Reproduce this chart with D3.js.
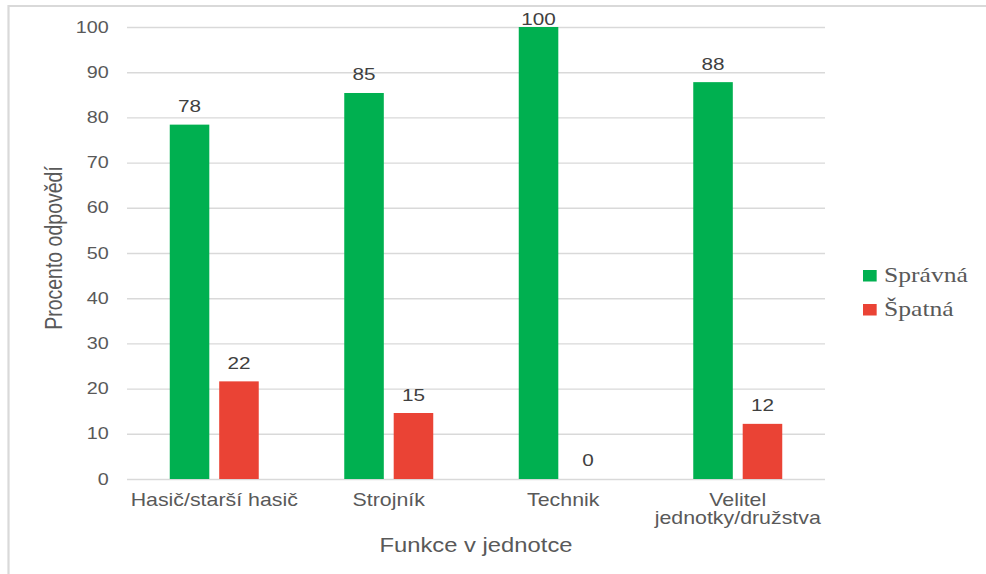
<!DOCTYPE html>
<html>
<head>
<meta charset="utf-8">
<script src="https://cdn.jsdelivr.net/npm/d3@7"></script>
<style>
  html, body { margin: 0; padding: 0; background: #ffffff; }
  svg { display: block; }
</style>
</head>
<body>
<script>
// ---- data ----
const categories = ["Hasič/starší hasič", "Strojník", "Technik", "Velitel\njednotky/družstva"];
const seriesNames = ["Správná", "Špatná"];
const spravna = [78.4, 85.4, 100, 87.8];
const spatna = [21.6, 14.6, 0, 12.2];
const yTicks = [0, 10, 20, 30, 40, 50, 60, 70, 80, 90, 100];
const seriesColors = ["#00b050", "#ea4335"];
const yTitle = "Procento odpovědí";
const xTitle = "Funkce v jednotce";

// ---- layout (the picture is horizontally stretched; draw in a squeezed viewBox) ----
const WIDTH = 986, HEIGHT = 574, S = 1.22;
const VW = WIDTH / S;
const plotLeft = 127 / S, plotRight = 825 / S, plotTop = 27, plotBottom = 479;

const svg = d3.select("body").append("svg")
  .attr("width", WIDTH).attr("height", HEIGHT)
  .attr("viewBox", `0 0 ${VW} ${HEIGHT}`)
  .attr("preserveAspectRatio", "none");

// frame
svg.append("path")
  .attr("d", `M${8.5 / S},${HEIGHT} L${8.5 / S},6 L${VW},6`)
  .attr("fill", "none").attr("stroke", "#d9d9d9").attr("stroke-width", 1.8);

const y = d3.scaleLinear().domain([0, 100]).range([plotBottom, plotTop]);
const x0 = d3.scaleBand().domain(categories).range([plotLeft, plotRight])
  .paddingInner(0.49).paddingOuter(0.245);
const x1 = d3.scaleBand().domain(seriesNames).range([0, x0.bandwidth()]).paddingInner(0.2);

const plotW = plotRight - plotLeft;

// y axis with gridlines
const yAxis = svg.append("g").attr("transform", `translate(${plotLeft},0)`)
  .call(d3.axisLeft(y).tickValues(yTicks).tickSize(-plotW).tickPadding(15));
yAxis.select(".domain").remove();
yAxis.selectAll(".tick line").attr("stroke", "#d9d9d9").attr("stroke-width", 1.4);
yAxis.selectAll(".tick text")
  .attr("fill", "#595959").attr("font-family", "'Liberation Sans', Arial, sans-serif")
  .attr("font-size", 16.2);

// bars
const rows = categories.map((c, i) => ({ cat: c, vals: [spravna[i], spatna[i]] }));
const groups = svg.append("g").selectAll("g").data(rows).join("g")
  .attr("transform", d => `translate(${x0(d.cat)},0)`);
groups.selectAll("rect").data(d => d.vals.map((v, j) => ({ v, s: seriesNames[j], j })))
  .join("rect")
  .attr("x", d => x1(d.s)).attr("width", x1.bandwidth())
  .attr("y", d => y(d.v)).attr("height", d => y(0) - y(d.v))
  .attr("fill", d => seriesColors[d.j]);
groups.selectAll("text").data(d => d.vals.map((v, j) => ({ v, s: seriesNames[j], j })))
  .join("text")
  .attr("x", d => x1(d.s) + x1.bandwidth() / 2)
  .attr("y", d => Math.max(y(d.v) - 12.5, plotTop - 2))
  .attr("text-anchor", "middle")
  .attr("fill", "#404040").attr("font-family", "'Liberation Sans', Arial, sans-serif")
  .attr("font-size", 17)
  .text(d => d3.format(".0f")(d.v));

// x axis labels
const xAxis = svg.append("g").attr("transform", `translate(0,${plotBottom})`)
  .call(d3.axisBottom(x0).tickSize(0).tickPadding(0));
xAxis.select(".domain").remove();
xAxis.selectAll(".tick text").each(function(d) {
  const t = d3.select(this);
  t.text(null).attr("y", 0).attr("dy", null)
    .attr("fill", "#595959").attr("font-family", "'Liberation Sans', Arial, sans-serif")
    .attr("font-size", 17.5);
  d.split("\n").forEach((line, i) => {
    t.append("tspan").attr("x", 0).attr("y", 27 + i * 18.5).text(line);
  });
});

// axis titles
svg.append("text")
  .attr("transform", `translate(${62 / S},${248}) rotate(-90)`)
  .attr("text-anchor", "middle")
  .attr("fill", "#595959").attr("font-family", "'Liberation Sans', Arial, sans-serif")
  .attr("font-size", 19.5)
  .text(yTitle);
svg.append("text")
  .attr("x", (plotLeft + plotRight) / 2).attr("y", 552)
  .attr("text-anchor", "middle")
  .attr("fill", "#595959").attr("font-family", "'Liberation Sans', Arial, sans-serif")
  .attr("font-size", 19.5)
  .text(xTitle);

// legend
const legend = svg.append("g").selectAll("g").data(seriesNames).join("g")
  .attr("transform", (d, i) => `translate(${863 / S},${270 + i * 34})`);
legend.append("rect").attr("width", 11.2).attr("height", 11.5)
  .attr("fill", (d, i) => seriesColors[i]);
legend.append("text").attr("x", (884 - 863) / S).attr("y", 11.7)
  .attr("fill", "#595959").attr("font-family", "'Liberation Serif', 'Times New Roman', serif")
  .attr("font-size", 21)
  .text(d => d);
</script>
</body>
</html>
